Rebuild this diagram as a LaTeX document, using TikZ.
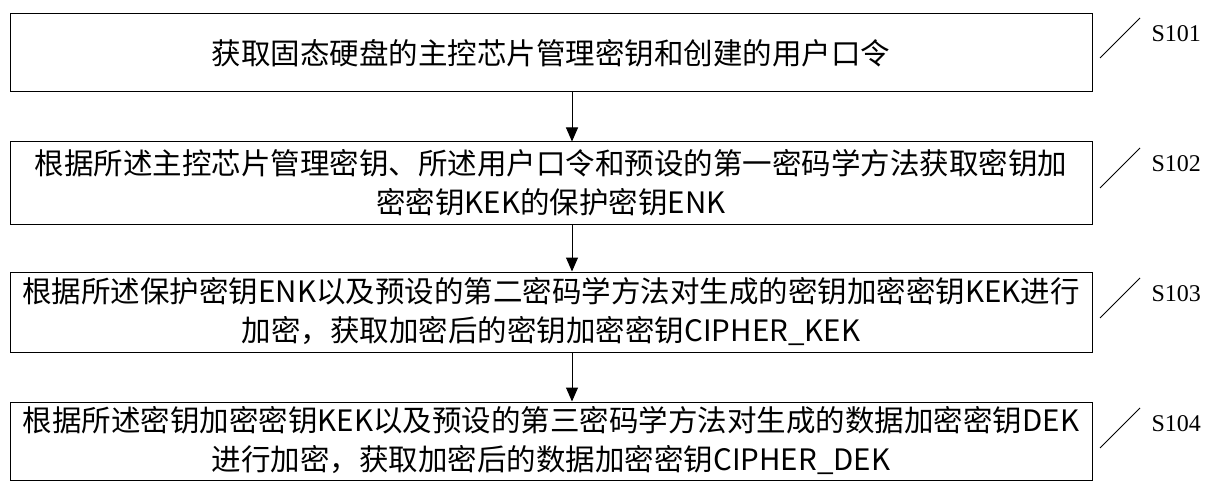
\documentclass[tikz,border=0pt]{standalone}
\usepackage{fontspec}
\usetikzlibrary{arrows.meta}
\setmainfont{Liberation Serif}
\newfontfamily\cjk{Noto Sans CJK SC}
\begin{document}
\begin{tikzpicture}[x=1pt,y=-1pt,
  stepbox/.style={draw,line width=1pt,minimum width=1082pt,inner sep=0pt,align=center,font=\cjk\fontsize{29.5}{39}\selectfont},
  arr/.style={-{Triangle[length=14pt,width=12pt]},line width=1pt},
  lab/.style={font=\fontsize{24}{28}\selectfont,anchor=west}]
\useasboundingbox (0,0) rectangle (1224,500);
\node[stepbox,minimum height=78pt] (b1) at (551,53) {获取固态硬盘的主控芯片管理密钥和创建的用户口令};
\node[stepbox,minimum height=82pt] (b2) at (551,183) {根据所述主控芯片管理密钥、所述用户口令和预设的第一密码学方法获取密钥加\\密密钥KEK的保护密钥ENK};
\node[stepbox,minimum height=80pt] (b3) at (551,312) {根据所述保护密钥ENK以及预设的第二密码学方法对生成的密钥加密密钥KEK进行\\加密，获取加密后的密钥加密密钥CIPHER\_KEK};
\node[stepbox,minimum height=78pt] (b4) at (551,441) {根据所述密钥加密密钥KEK以及预设的第三密码学方法对生成的数据加密密钥DEK\\进行加密，获取加密后的数据加密密钥CIPHER\_DEK};
\draw[arr] (b1.south -| 572,0) -- (b2.north -| 572,0);
\draw[arr] (b2.south -| 572,0) -- (b3.north -| 572,0);
\draw[arr] (b3.south -| 572,0) -- (b4.north -| 572,0);
\foreach \i/\y in {1/18,2/148,3/278,4/408}{
  \coordinate (s\i) at (1100,\y+40);
  \coordinate (e\i) at (1140,\y);
  \draw[line width=0.8pt] (s\i) -- (e\i);
  \node[lab] (l\i) at (1148,\y+16) {S10\i};
}
\end{tikzpicture}
\end{document}
